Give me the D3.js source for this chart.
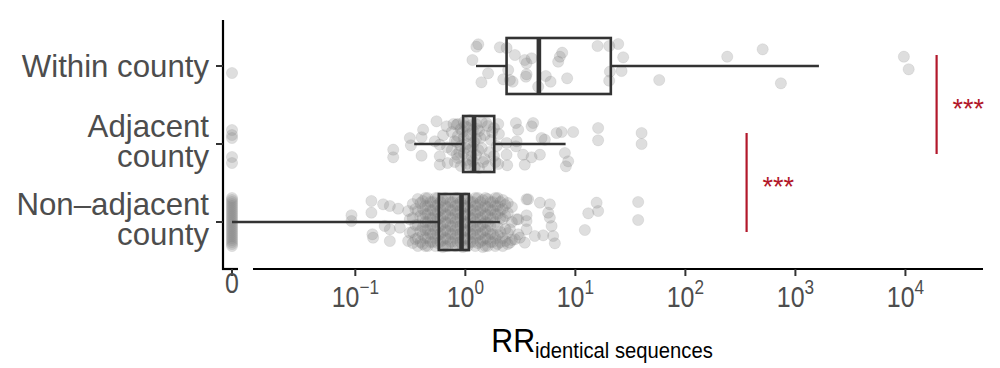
<!DOCTYPE html>
<html><head><meta charset="utf-8">
<script src="https://cdn.jsdelivr.net/npm/d3@7/dist/d3.min.js"></script>
<style>body{margin:0;background:#fff}svg{display:block;font-family:"Liberation Sans",Arial,sans-serif}</style>
</head><body>
<svg id="c" width="1000" height="368"></svg>
<script>
const categories = ["Within county", "Adjacent county", "Non-adjacent county"];
const categoryLines = [["Within county"], ["Adjacent", "county"], ["Non\u2013adjacent", "county"]];
const tickExponents = [-1, 0, 1, 2, 3, 4];
const zeroTickLabel = "0";

const boxQ1 = [2.37, 0.955, 0.574];
const boxMedian = [4.66, 1.20, 0.923];
const boxQ3 = [21.0, 1.83, 1.076];
const whiskerLow = [1.25, 0.343, 0];
const whiskerHigh = [1636, 8.15, 2.06];

// [RR value, vertical jitter in px]
const withinPoints = [
 [1.26,-19.3],[1.31,-21.7],[1.16,-6],[1.40,16.3],[1.61,7.3],[2.06,-18.7],[2.37,-18],[2.21,13.3],[2.54,14],[2.69,15.7],
 [2.45,4],[2.82,-11],[3.47,-6],[3.60,-2.7],[4.00,-7.7],[3.55,10.7],[3.60,8.3],[4.59,20.7],[5.39,10],[5.95,15.7],
 [6.98,-4.3],[7.23,-9.3],[7.59,-13.3],[8.42,12.3],[15.9,-20],[20.3,-20],[24.5,-22],[27.2,-8.7],[20.6,5.7],[26.3,5],
 [20.3,14.7],[57.8,14],[240,-9.3],[504,-16.7],[738,17.3],[9680,-9.3],[10700,3.3],[0,7]
];
const adjacentPoints = [
 [0.221,5.7],[0.221,13.3],[0.313,-6],[0.320,1.3],[0.400,-6.7],[0.413,-14.3],[0.400,11.7],[0.547,-22.7],[0.675,-17.7],
 [0.528,-2.7],[0.586,0.7],[0.683,3.3],[0.586,12.3],[0.586,20.7],[0.689,19],[0.628,-8.7],[0.832,-19.3],[0.832,10.7],
 [0.754,-12],[0.754,6],[0.802,-3],[0.802,18],[0.855,-20],[0.855,-8],[0.855,14],[0.91,-15],[0.91,2],[0.91,22],
 [0.969,-22],[0.969,-6],[0.969,9],[1.03,-17],[1.03,0],[1.03,16],[1.10,-24],[1.10,-10],[1.10,6],[1.10,21],
 [1.17,-14],[1.17,3],[1.17,17],[1.25,-20],[1.25,-5],[1.25,11],[1.33,-13],[1.33,24],[1.41,-22],[1.41,4],
 [1.50,-9],[1.50,15],[1.60,-18],[1.60,22],[1.71,-4],[1.82,-16],[1.82,12],[1.93,2],
 [0.78,-20],[0.83,-2],[0.88,8],[0.94,-12],[0.99,-18],[1.00,4],[1.02,20],[1.06,-8],[1.13,-19],[1.14,12],
 [1.20,-2],[1.22,23],[1.28,-15],[1.31,6],[1.37,-6],[1.45,18],[1.55,-21],[1.66,8],[1.75,-12],[1.88,18],
 [1.99,-20],[2.02,-10],[2.37,-1],[2.37,10.7],[1.99,20],[2.40,21.3],[2.88,-21],[3.02,-14.3],[4.13,-21],[4.00,-17.7],
 [2.92,-2.7],[2.88,2.3],[3.35,10.7],[3.47,20.7],[4.00,13.3],[4.76,10.7],[4.93,-6],[5.28,-4.3],[6.75,-11],[7.50,-12],
 [8.03,9],[8.60,17.3],[8.20,22.3],[9.55,-12],[16.1,-16],[16.1,-3.7],[40.0,-11],[40.0,0],
 [0,-14],[0,-9],[0,-6],[0,13],[0,19]
];
const nonAdjacentPoints = [
 [0.0923,-6.7],[0.0923,-1],[0.140,-21],[0.140,-9.3],[0.143,12.3],[0.145,15.7],[0.179,-17.7],[0.206,-16],[0.245,-13.3],
 [0.206,7.3],[0.206,19],[0.185,4],[0.254,5.7],[0.302,-11],[0.313,-2.7],[0.313,10.7],[0.302,19],
 [0.333,-18],[0.333,-4],[0.333,10],[0.333,21],
 [0.351,-13],[0.351,3],[0.351,17],
 [0.370,-23],[0.370,-11],[0.370,3],[0.370,16],[0.370,24],
 [0.390,-19],[0.390,-6],[0.390,9],[0.390,20],
 [0.411,-21],[0.411,-13],[0.411,-4],[0.411,5],[0.411,13],[0.411,22],
 [0.433,-24],[0.433,-16],[0.433,-8],[0.433,0],[0.433,8],[0.433,16],[0.433,24],
 [0.456,-24],[0.456,-16],[0.456,-8],[0.456,0],[0.456,8],[0.456,16],[0.456,24],
 [0.481,-20],[0.481,-12],[0.481,-4],[0.481,4],[0.481,12],[0.481,20],
 [0.507,-20],[0.507,-12],[0.507,-4],[0.507,4],[0.507,12],[0.507,20],
 [0.534,-24],[0.534,-16],[0.534,-8],[0.534,0],[0.534,8],[0.534,16],[0.534,24],
 [0.562,-24],[0.562,-17],[0.562,-10],[0.562,-3],[0.562,5],[0.562,13],[0.562,21],
 [0.593,-20],[0.593,-12],[0.593,-4],[0.593,4],[0.593,12],[0.593,20],
 [0.624,-22],[0.624,-14],[0.624,-6],[0.624,2],[0.624,10],[0.624,18],[0.624,25],
 [0.658,-24],[0.658,-16],[0.658,-8],[0.658,0],[0.658,8],[0.658,16],[0.658,24],
 [0.693,-23],[0.693,-15],[0.693,-7],[0.693,1],[0.693,9],[0.693,17],[0.693,24],
 [0.731,-20],[0.731,-12],[0.731,-4],[0.731,4],[0.731,12],[0.731,20],
 [0.769,-20],[0.769,-12],[0.769,-4],[0.769,4],[0.769,12],[0.769,20],
 [0.811,-24],[0.811,-16],[0.811,-8],[0.811,0],[0.811,8],[0.811,16],[0.811,24],
 [0.855,-24],[0.855,-17],[0.855,-10],[0.855,-3],[0.855,5],[0.855,13],[0.855,21],
 [0.901,-20],[0.901,-12],[0.901,-4],[0.901,4],[0.901,12],[0.901,20],
 [0.949,-22],[0.949,-14],[0.949,-6],[0.949,2],[0.949,10],[0.949,18],[0.949,25],
 [1.00,-24],[1.00,-16],[1.00,-8],[1.00,0],[1.00,8],[1.00,16],[1.00,24],
 [1.05,-23],[1.05,-15],[1.05,-7],[1.05,1],[1.05,9],[1.05,17],[1.05,24],
 [1.11,-20],[1.11,-12],[1.11,-4],[1.11,4],[1.11,12],[1.11,20],
 [1.17,-20],[1.17,-12],[1.17,-4],[1.17,4],[1.17,12],[1.17,20],
 [1.23,-24],[1.23,-16],[1.23,-8],[1.23,0],[1.23,8],[1.23,16],[1.23,24],
 [1.30,-24],[1.30,-17],[1.30,-10],[1.30,-3],[1.30,5],[1.30,13],[1.30,21],
 [1.37,-20],[1.37,-12],[1.37,-4],[1.37,4],[1.37,12],[1.37,20],
 [1.44,-22],[1.44,-14],[1.44,-6],[1.44,2],[1.44,10],[1.44,18],[1.44,25],
 [1.52,-24],[1.52,-16],[1.52,-8],[1.52,0],[1.52,8],[1.52,16],[1.52,24],
 [1.60,-23],[1.60,-15],[1.60,-7],[1.60,1],[1.60,9],[1.60,17],[1.60,24],
 [1.69,-20],[1.69,-12],[1.69,-4],[1.69,4],[1.69,12],[1.69,20],
 [1.78,-20],[1.78,-12],[1.78,-4],[1.78,12],[1.78,20],
 [1.87,-24],[1.87,-16],[1.87,-8],[1.87,0],[1.87,16],[1.87,24],
 [1.97,-24],[1.97,-16],[1.97,-8],[1.97,5],[1.97,13],[1.97,22],
 [2.08,-20],[2.08,-12],[2.08,-4],[2.08,10],[2.08,20],
 [2.19,-22],[2.19,-13],[2.19,-3],[2.19,16],[2.19,24],
 [2.31,-17],[2.31,-6],[2.31,7],[2.31,19],
 [2.43,-19],[2.43,-9],[2.43,11],[2.43,22],
 [2.65,-15],[2.65,0],[2.65,18],
 [2.92,-2.7],[2.54,7.3],[2.82,17.3],[3.60,-22.7],[3.60,-1],[3.47,20.7],[3.02,12.3],[3.72,-22.7],[3.60,-6.7],[3.02,-2.7],
 [4.76,-19.3],[5.86,-17.7],[5.66,-9.3],[5.86,-4.3],[6.08,4],[3.60,7.3],[4.28,14],[5.10,13.3],[6.28,14],[6.51,21.3],
 [3.13,15.7],[2.54,20.7],[13.1,-8.7],[15.6,-19.3],[16.1,-11],[12.2,8],[37.2,-20],[37.2,-2],
 [0,-24],[0,-22],[0,-20],[0,-18],[0,-16],[0,-14],[0,-12],[0,-10],[0,-8],[0,-6],[0,-4],[0,-2],
 [0,0],[0,2],[0,4],[0,6],[0,8],[0,10],[0,12],[0,14],[0,16],[0,18],[0,20],[0,22],[0,24]
];
const pointSets = [withinPoints, adjacentPoints, nonAdjacentPoints];

// significance brackets: between categories, at RR position
const sigFrom = ["Within county", "Adjacent county"];
const sigTo = ["Adjacent county", "Non-adjacent county"];
const sigAt = [19200, 360];
const sigLabels = ["***", "***"];

const svg = d3.select("#c");

const y = d3.scalePoint().domain(categories).range([66, 222]);
const xLog = d3.scaleLog().domain([Math.pow(10, -1.93), Math.pow(10, 4.705)]).range([253, 983]);
const xZero = d3.scaleLinear().domain([-1, 1]).range([223, 241]);
const xp = v => v === 0 ? xZero(0) : xLog(v);

const axisY = 269;
const boxHalf = 28;

// condensed text helper (reference typeface is narrow)
function ctext(sel, x, yy, sx) {
  return sel.append("text").attr("transform", `translate(${x},${yy}) scale(${sx},1)`);
}

// points
const ptsG = svg.append("g");
pointSets.forEach((set, i) => {
  ptsG.selectAll(null).data(set).enter().append("circle")
    .attr("cx", d => xp(d[0]))
    .attr("cy", d => y(categories[i]) + d[1])
    .attr("r", 5.6)
    .attr("fill", "#7f7f7f").attr("fill-opacity", 0.26)
    .attr("stroke", "#7f7f7f").attr("stroke-opacity", 0.14).attr("stroke-width", 1);
});

// boxplots
const boxG = svg.append("g").attr("stroke", "#333333").attr("fill", "none");
categories.forEach((c, i) => {
  const cy = y(c);
  boxG.append("line").attr("x1", xp(whiskerLow[i])).attr("x2", xp(boxQ1[i])).attr("y1", cy).attr("y2", cy).attr("stroke-width", 2.4);
  boxG.append("line").attr("x1", xp(boxQ3[i])).attr("x2", xp(whiskerHigh[i])).attr("y1", cy).attr("y2", cy).attr("stroke-width", 2.4);
  boxG.append("rect").attr("x", xp(boxQ1[i])).attr("y", cy - boxHalf)
    .attr("width", xp(boxQ3[i]) - xp(boxQ1[i])).attr("height", 2 * boxHalf).attr("stroke-width", 2.6);
  boxG.append("line").attr("x1", xp(boxMedian[i])).attr("x2", xp(boxMedian[i]))
    .attr("y1", cy - boxHalf).attr("y2", cy + boxHalf).attr("stroke-width", 4.6);
});

// significance
sigAt.forEach((v, i) => {
  const x = xLog(v);
  const y1 = y(sigFrom[i]) - 11, y2 = y(sigTo[i]) + 10;
  svg.append("line").attr("x1", x).attr("x2", x).attr("y1", y1).attr("y2", y2)
    .attr("stroke", "#b2182b").attr("stroke-width", 2.2);
  ctext(svg, x + 16, (y1 + y2) / 2 + 13, 1)
    .attr("fill", "#b2182b").attr("font-size", 27).text(sigLabels[i]);
});

// y axis
const axG = svg.append("g");
axG.append("line").attr("x1", 223).attr("x2", 223).attr("y1", 20).attr("y2", axisY + 1)
  .attr("stroke", "#000").attr("stroke-width", 2.2);
categories.forEach((c, i) => {
  const cy = y(c);
  axG.append("line").attr("x1", 216).attr("x2", 223).attr("y1", cy).attr("y2", cy)
    .attr("stroke", "#333").attr("stroke-width", 2);
  const lines = categoryLines[i];
  const offs = lines.length === 1 ? [11] : [-7, 23];
  lines.forEach((ln, j) => {
    ctext(axG, 209, cy + offs[j], 0.975).attr("text-anchor", "end")
      .attr("font-size", 32).attr("fill", "#4d4d4d").text(ln);
  });
});

// x axis
axG.append("line").attr("x1", 222).attr("x2", 238).attr("y1", axisY).attr("y2", axisY)
  .attr("stroke", "#000").attr("stroke-width", 2.2);
axG.append("line").attr("x1", 253).attr("x2", 983).attr("y1", axisY).attr("y2", axisY)
  .attr("stroke", "#000").attr("stroke-width", 2.2);
axG.append("line").attr("x1", xZero(0)).attr("x2", xZero(0)).attr("y1", axisY).attr("y2", axisY + 7)
  .attr("stroke", "#333").attr("stroke-width", 2);
ctext(axG, xZero(0), 293, 0.86).attr("text-anchor", "middle")
  .attr("font-size", 29).attr("fill", "#4d4d4d").text(zeroTickLabel);
tickExponents.forEach(e => {
  const x = xLog(Math.pow(10, e));
  axG.append("line").attr("x1", x).attr("x2", x).attr("y1", axisY).attr("y2", axisY + 7)
    .attr("stroke", "#333").attr("stroke-width", 2);
  const t = ctext(axG, x, 307, 0.86).attr("text-anchor", "middle")
    .attr("font-size", 29).attr("fill", "#4d4d4d");
  t.append("tspan").text("10");
  t.append("tspan").attr("font-size", 20).attr("dy", -13).text(e < 0 ? "\u2212" + Math.abs(e) : String(e));
});

// axis title
const title = ctext(svg, 602, 352, 0.92).attr("text-anchor", "middle").attr("fill", "#000");
title.append("tspan").attr("font-size", 33).text("RR");
title.append("tspan").attr("font-size", 22).attr("dy", 6).text("identical sequences");
</script>
</body></html>
